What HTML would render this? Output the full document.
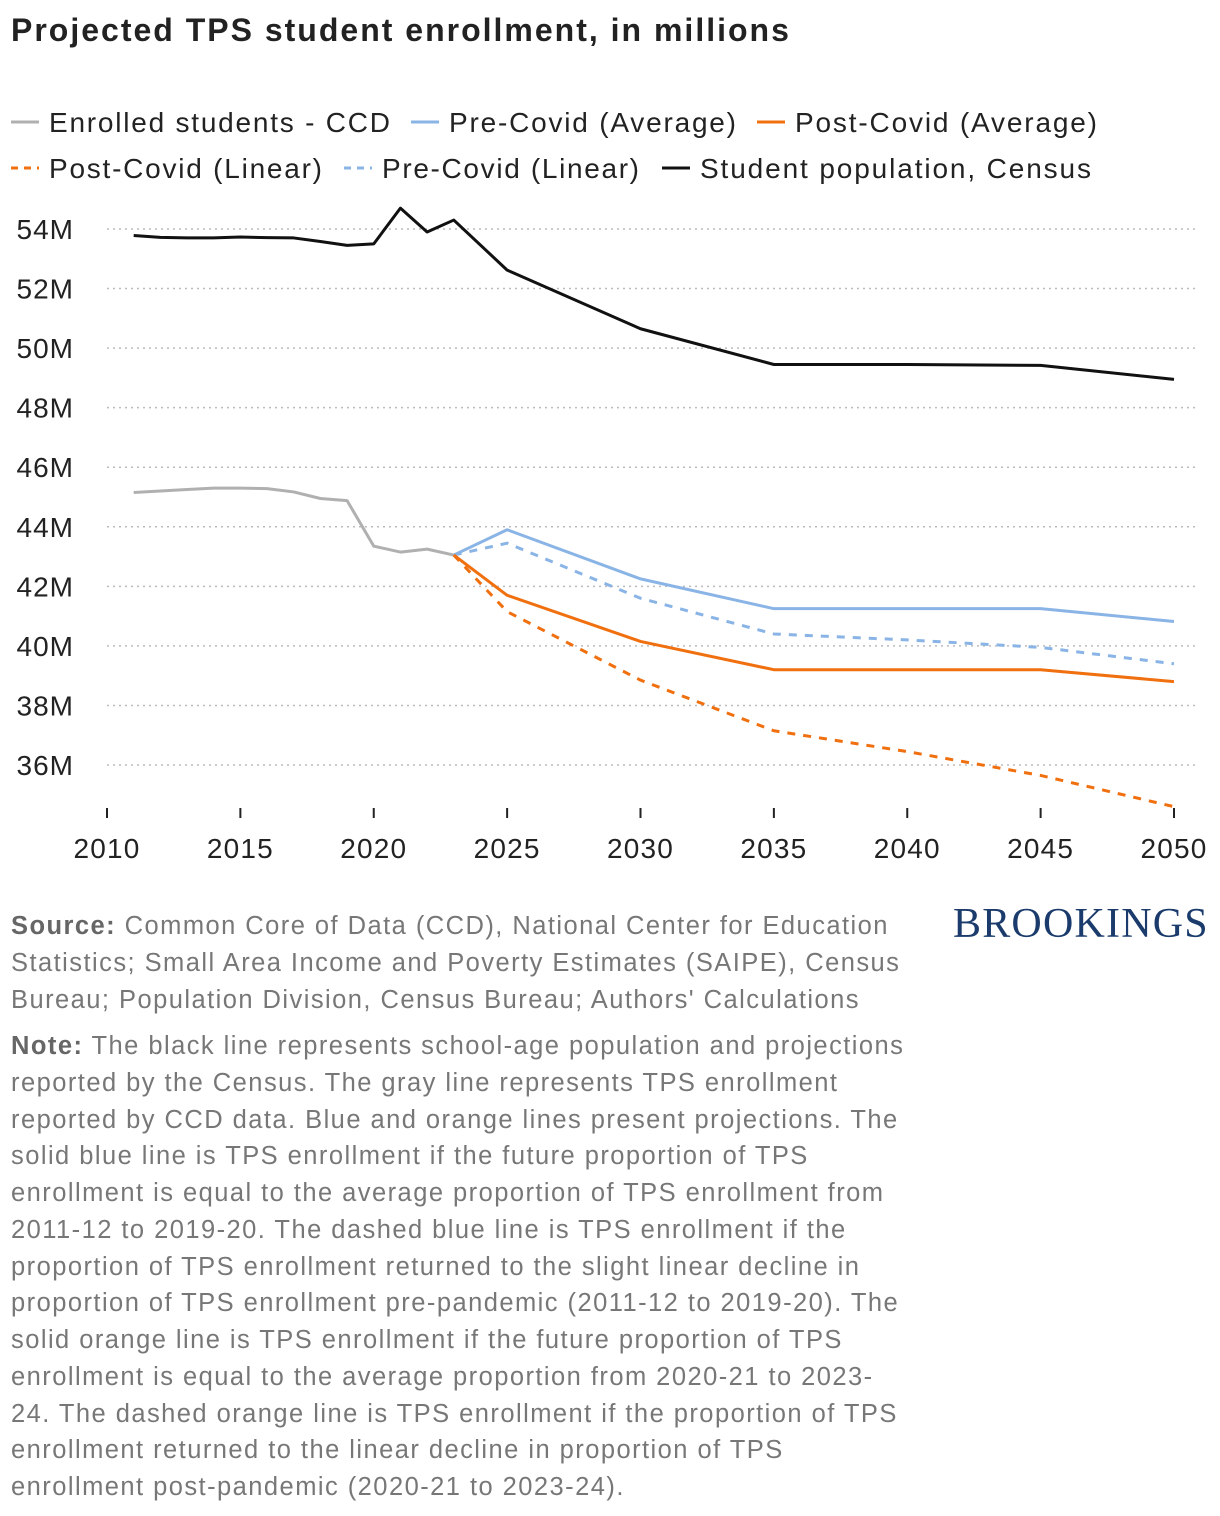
<!DOCTYPE html>
<html><head><meta charset="utf-8"><style>
body{margin:0;background:#fff;width:1220px;height:1516px;overflow:hidden;font-family:"Liberation Sans",sans-serif;}
.title{position:absolute;left:11px;top:12px;font-size:32px;font-weight:bold;color:#222;letter-spacing:2px;}
.foot{position:absolute;left:11px;font-size:25.5px;line-height:36.75px;color:#777;letter-spacing:1.45px;white-space:nowrap;}
.foot b{color:#666;}
.logo{position:absolute;left:953px;top:900px;font-family:"Liberation Serif",serif;font-size:42px;color:#1a3b6b;letter-spacing:1.2px;}
</style></head><body>
<div class="title">Projected TPS student enrollment, in millions</div>
<svg id="chart" width="1220" height="880" style="position:absolute;left:0;top:0">
<g id="legend"></g>
<g id="grid"></g><g id="lines"></g><g id="axes"></g>
</svg>
<div class="foot" style="top:908px"><b>Source:</b> Common Core of Data (CCD), National Center for Education<br>Statistics; Small Area Income and Poverty Estimates (SAIPE), Census<br>Bureau; Population Division, Census Bureau; Authors' Calculations</div>
<div class="foot" style="top:1028px"><b>Note:</b> The black line represents school-age population and projections<br>reported by the Census. The gray line represents TPS enrollment<br>reported by CCD data. Blue and orange lines present projections. The<br>solid blue line is TPS enrollment if the future proportion of TPS<br>enrollment is equal to the average proportion of TPS enrollment from<br>2011-12 to 2019-20. The dashed blue line is TPS enrollment if the<br>proportion of TPS enrollment returned to the slight linear decline in<br>proportion of TPS enrollment pre-pandemic (2011-12 to 2019-20). The<br>solid orange line is TPS enrollment if the future proportion of TPS<br>enrollment is equal to the average proportion from 2020-21 to 2023-<br>24. The dashed orange line is TPS enrollment if the proportion of TPS<br>enrollment returned to the linear decline in proportion of TPS<br>enrollment post-pandemic (2020-21 to 2023-24).</div>
<div class="logo">BROOKINGS</div>
<script>
const xTicks=[2010,2015,2020,2025,2030,2035,2040,2045,2050];
const yTicks=[36,38,40,42,44,46,48,50,52,54];
const censusYears=[2011,2012,2013,2014,2015,2016,2017,2018,2019,2020,2021,2022,2023,2025,2030,2035,2040,2045,2050];
const censusVals=[53.78,53.72,53.7,53.7,53.73,53.71,53.7,53.58,53.45,53.5,54.7,53.9,54.3,52.62,50.65,49.45,49.45,49.42,48.95];
const ccdYears=[2011,2012,2013,2014,2015,2016,2017,2018,2019,2020,2021,2022,2023];
const ccdVals=[45.15,45.2,45.25,45.3,45.3,45.28,45.17,44.95,44.88,43.35,43.15,43.25,43.05];
const projYears=[2023,2025,2030,2035,2040,2045,2050];
const preAvg=[43.05,43.9,42.25,41.25,41.25,41.25,40.82];
const preLin=[43.05,43.45,41.6,40.4,40.2,39.95,39.4];
const postAvg=[43.05,41.7,40.15,39.2,39.2,39.2,38.8];
const postLin=[43.05,41.15,38.85,37.15,36.45,35.65,34.6];
const NS="http://www.w3.org/2000/svg";
const x=y=>107+(y-2010)*(1174-107)/40;
const yS=v=>765-(v-36)*(765-229)/18;
function mk(tag,attrs,parent){const e=document.createElementNS(NS,tag);for(const k in attrs)e.setAttribute(k,attrs[k]);parent.appendChild(e);return e;}
const grid=document.getElementById('grid'),axes=document.getElementById('axes'),lines=document.getElementById('lines'),leg=document.getElementById('legend');
yTicks.forEach(v=>{
 const l=mk('line',{x1:107,x2:1195,y1:yS(v),y2:yS(v),stroke:'#bbb','stroke-width':1.5,'stroke-dasharray':'2,4'},grid);
 
 
 const t=mk('text',{x:74,y:yS(v)+10,'text-anchor':'end','font-size':28,fill:'#222','letter-spacing':1},axes);
 t.textContent=v+'M';
 
 
});
xTicks.forEach(v=>{
 const l=mk('line',{x1:x(v),x2:x(v),y1:808,y2:818,stroke:'#222','stroke-width':2},axes);
 
 
 const t=mk('text',{x:x(v),y:858,'text-anchor':'middle','font-size':28,fill:'#222','letter-spacing':1.2},axes);
 t.textContent=v;
 
 
});
function series(xs,vs,color,dash,name){
 const p=mk('polyline',{points:xs.map((yy,i)=>x(yy)+','+yS(vs[i])).join(' '),fill:'none',stroke:color,'stroke-width':3,'stroke-dasharray':dash||'none','stroke-linejoin':'round'},lines);
 
 
}
series(censusYears,censusVals,'#111',null,'census-line');
series(ccdYears,ccdVals,'#b0b0b0',null,'ccd-line');
series(projYears,preLin,'#8ab4e6','8,8','pre-covid-linear-line');
series(projYears,preAvg,'#8ab4e6',null,'pre-covid-average-line');
series(projYears,postLin,'#f07010','8,8','post-covid-linear-line');
series(projYears,postAvg,'#f07010',null,'post-covid-average-line');
const legItems=[[11,122,'#b0b0b0',0,'Enrolled students - CCD',341],[411,122,'#8ab4e6',0,'Pre-Covid (Average)',287],[757,122,'#f07010',0,'Post-Covid (Average)',302],
[11,168,'#f07010',1,'Post-Covid (Linear)',273],[344,168,'#8ab4e6',1,'Pre-Covid (Linear)',257],[662,168,'#111',0,'Student population, Census',391]];
legItems.forEach(it=>{
 const l=mk('line',{x1:it[0],x2:it[0]+28,y1:it[1],y2:it[1],stroke:it[2],'stroke-width':3,'stroke-dasharray':it[3]?'7,6':'none'},leg);
 
 
 const t=mk('text',{x:it[0]+38,y:it[1]+10,'font-size':28,fill:'#222',textLength:it[5],lengthAdjust:'spacing'},leg);
 t.textContent=it[4];
 
 
});
</script>
</body></html>
